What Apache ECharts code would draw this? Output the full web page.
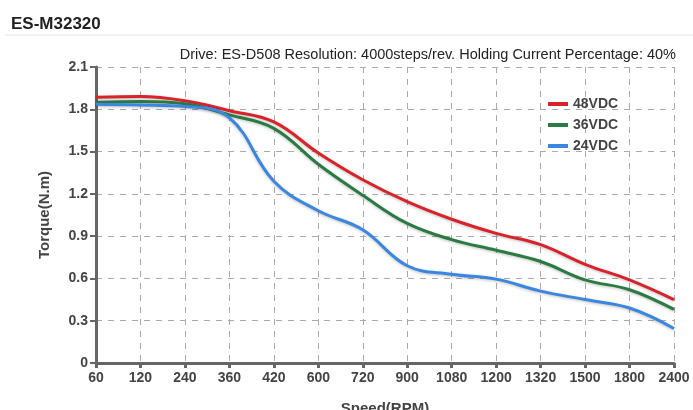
<!DOCTYPE html>
<html>
<head>
<meta charset="utf-8">
<script src="https://cdn.jsdelivr.net/npm/echarts@6/dist/echarts.min.js"></script>
<style>
	html, body { margin: 0; padding: 0; background: #fff; }
	#main { width: 693px; height: 410px; }
</style>
</head>
<body>
<div id="main"></div>
<script>
// 转速（类目轴）
var speeds = ['60', '120', '240', '360', '420', '600', '720', '900', '1080', '1200', '1320', '1500', '1800', '2400'];
var torque48 = [1.885, 1.89, 1.86, 1.79, 1.71, 1.49, 1.30, 1.145, 1.02, 0.92, 0.84, 0.70, 0.59, 0.45];
var torque36 = [1.85, 1.855, 1.84, 1.76, 1.665, 1.41, 1.19, 0.99, 0.875, 0.80, 0.72, 0.59, 0.52, 0.38];
var torque24 = [1.835, 1.83, 1.82, 1.74, 1.29, 1.08, 0.945, 0.69, 0.63, 0.595, 0.51, 0.45, 0.39, 0.245];
var yTicks = [0, 0.3, 0.6, 0.9, 1.2, 1.5, 1.8, 2.1];

var chart = echarts.init(document.getElementById('main'));

function makeSeries(name, data, color) {
	return {
		name: name,
		type: 'line',
		smooth: 0.4,
		symbol: 'none',
		data: data,
		lineStyle: {
			width: 3,
			color: color,
			shadowColor: 'rgba(0,0,0,0.25)',
			shadowBlur: 3,
			shadowOffsetY: 1
		},
		itemStyle: { color: color }
	};
}

var option = {
	animation: false,
	title: [{
		text: 'ES-M32320',
		left: 6,
		top: 11,
		textStyle: { fontFamily: 'Liberation Sans', fontSize: 17, fontWeight: 'bold', color: '#222' }
	}, {
		text: 'Drive: ES-D508 Resolution: 4000steps/rev. Holding Current Percentage: 40%',
		right: 12,
		top: 42,
		textStyle: { fontFamily: 'Liberation Sans', fontSize: 14.5, fontWeight: 'normal', color: '#222' }
	}],
	graphic: [{
		type: 'line',
		shape: { x1: 5, y1: 35, x2: 693, y2: 35 },
		style: { stroke: '#e4e4e4', lineWidth: 1 }
	}],
	legend: {
		orient: 'vertical',
		left: 543,
		top: 92,
		itemWidth: 20,
		itemHeight: 4,
		itemGap: 7,
		icon: 'rect',
		data: ['48VDC', '36VDC', '24VDC'],
		textStyle: { fontFamily: 'Liberation Sans', fontSize: 14, fontWeight: 'bold', color: '#444' }
	},
	grid: { left: 96, right: 19, top: 67, bottom: 47, outerBoundsMode: 'none', containLabel: false },
	xAxis: {
		type: 'category',
		boundaryGap: false,
		data: speeds,
		name: 'Speed(RPM)',
		nameLocation: 'middle',
		nameGap: 38,
		nameTextStyle: { fontFamily: 'Liberation Sans', fontSize: 15, fontWeight: 'bold', color: '#444' },
		axisLine: { lineStyle: { color: '#666', width: 3 } },
		axisTick: { show: true, length: 5, lineStyle: { color: '#666', width: 3 } },
		axisLabel: { fontFamily: 'Liberation Sans', fontSize: 14, fontWeight: 'bold', color: '#444', margin: 8, interval: 0 },
		splitLine: { show: true, lineStyle: { color: '#aaa', type: [6, 6], width: 1 } }
	},
	yAxis: {
		type: 'value',
		min: 0,
		max: 2.1,
		interval: 0.3,
		name: 'Torque(N.m)',
		nameLocation: 'middle',
		nameGap: 44,
		nameTextStyle: { fontFamily: 'Liberation Sans', fontSize: 15, fontWeight: 'bold', color: '#444' },
		axisLine: { show: true, lineStyle: { color: '#666', width: 3 } },
		axisTick: { show: true, length: 6, lineStyle: { color: '#666', width: 2 } },
		axisLabel: {
			fontFamily: 'Liberation Sans', fontSize: 14, fontWeight: 'bold', color: '#444', margin: 8,
			formatter: function (v) {
				var t = yTicks.filter(function (x) { return Math.abs(x - v) < 1e-6; });
				return t.length ? String(t[0]) : '';
			}
		},
		splitLine: { show: true, lineStyle: { color: '#aaa', type: [6, 6], width: 1 } }
	},
	series: [
		makeSeries('48VDC', torque48, '#d9232b'),
		makeSeries('36VDC', torque36, '#2a7a43'),
		makeSeries('24VDC', torque24, '#3a86e0')
	]
};
chart.setOption(option, true);
</script>
</body>
</html>
